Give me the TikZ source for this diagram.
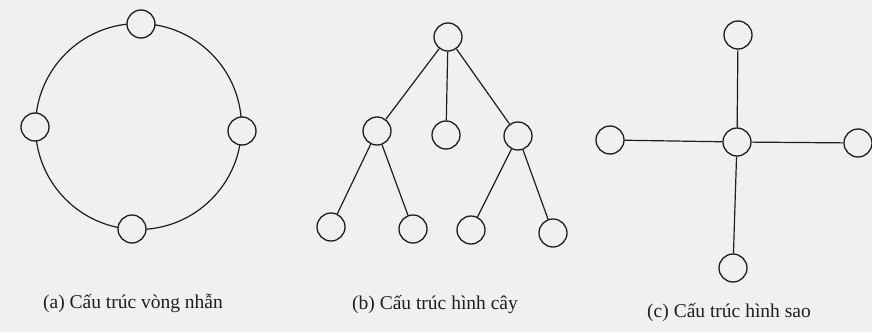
\documentclass[tikz,border=0pt]{standalone}
\usepackage{fontspec}
\setmainfont{Liberation Serif}
\definecolor{bg}{HTML}{F0F0F0}
\definecolor{ink}{HTML}{1E1E1E}
\begin{document}
\begin{tikzpicture}[x=1pt,y=-1pt,
  nd/.style={circle,draw=ink,line width=1.3pt,fill=bg,minimum size=28pt,inner sep=0pt},
  edge/.style={draw=ink,line width=1.2pt},
  captxt/.style={font=\fontsize{19.5}{22}\selectfont,text=ink,inner sep=0pt}]
\useasboundingbox[fill=bg] (0,0) rectangle (872,332);
% (a) ring
\coordinate (rc) at (138.5,126.5);
\draw[edge] (rc) circle[radius=103pt];
\node[nd] (a1) at (141,24) {};
\node[nd] (a2) at (35,127) {};
\node[nd] (a3) at (242,131) {};
\node[nd] (a4) at (132,229) {};
\node[captxt] (capa) at (133,303) {(a) Cấu trúc vòng nhẫn};
% (b) tree
\node[nd] (r) at (448,37) {};
\node[nd] (bl) at (377,131) {};
\node[nd] (bc) at (446,135) {};
\node[nd] (br) at (518,136) {};
\node[nd] (l1) at (331,227) {};
\node[nd] (l2) at (413,229) {};
\node[nd] (l3) at (471,230) {};
\node[nd] (l4) at (553,233) {};
\draw[edge] (r) -- (bl);
\draw[edge] (r) -- (bc);
\draw[edge] (r) -- (br);
\draw[edge] (bl) -- (l1);
\draw[edge] (bl) -- (l2);
\draw[edge] (br) -- (l3);
\draw[edge] (br) -- (l4);
\node[captxt] (capb) at (435,305) {(b) Cấu trúc hình cây};
% (c) star
\node[nd] (c0) at (737,142) {};
\node[nd] (ct) at (738,35) {};
\node[nd] (cl) at (610,140) {};
\node[nd] (cr) at (858,143) {};
\node[nd] (cb) at (733,268) {};
\draw[edge] (c0) -- (ct);
\draw[edge] (c0) -- (cl);
\draw[edge] (c0) -- (cr);
\draw[edge] (c0) -- (cb);
\node[captxt] (capc) at (729,313) {(c) Cấu trúc hình sao};
\end{tikzpicture}
\end{document}
